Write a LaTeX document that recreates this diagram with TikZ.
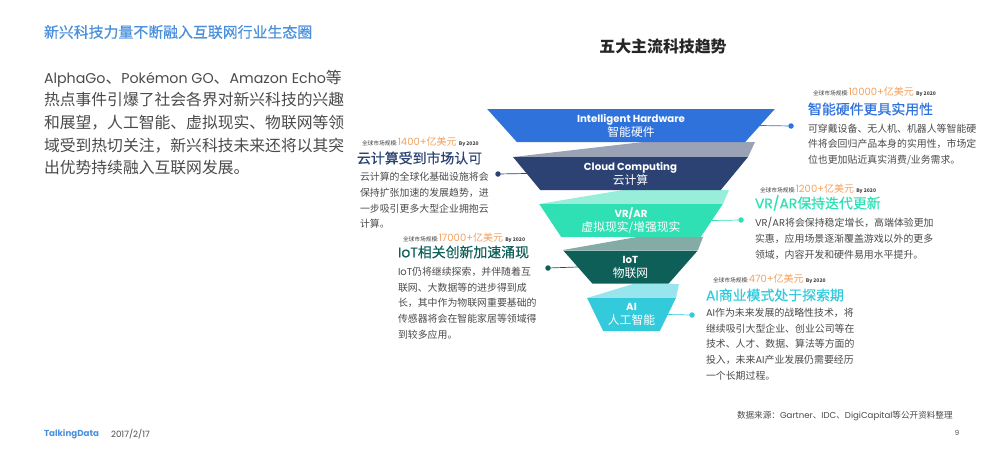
\documentclass[tikz,border=0pt]{standalone}
\usepackage{fontspec}
\setmainfont{Noto Sans CJK SC}
\newfontfamily\latinfont{Poppins}
\newfontfamily\introlatin[Scale=0.9]{Poppins}
\newfontfamily\headfont[FakeBold=0.6]{Noto Sans CJK SC}
\newfontfamily\headlatin[FakeBold=0.6]{Poppins}
\usetikzlibrary{positioning, shapes.geometric}
\definecolor{hwblue}{HTML}{2F72DC}
\definecolor{cloudnavy}{HTML}{2B4273}
\definecolor{vrmint}{HTML}{2FE0B4}
\definecolor{iotgreen}{HTML}{0E5F58}
\definecolor{aicyan}{HTML}{33CBDB}
\definecolor{headblue}{HTML}{4A90DC}
\definecolor{bodygray}{HTML}{4A4A4A}
\definecolor{sizeorange}{HTML}{F2A15F}
\definecolor{cloudband}{HTML}{9AA3B6}
\definecolor{iotband}{HTML}{84ABA6}
\newcommand{\sizeline}[1]{{\fontsize{5.7}{6}\selectfont 全球市场规模:}{\fontsize{10}{12}\selectfont\color{sizeorange}{\latinfont #1+}亿美元} {\fontsize{5}{6}\selectfont\bfseries By 2020}}
\newcommand{\funneltop}[1]{{\fontsize{10.2}{14}\selectfont\latinfont\bfseries #1}}

\begin{document}
\begin{tikzpicture}[x=1pt, y=-1pt, inner sep=0pt, outer sep=0pt,
  funnel/.style={trapezium, shape border rotate=180, trapezium stretches=true,
                 trapezium angle=58.8, minimum height=33pt, text=white, align=center,
                 font=\fontsize{11.8}{14}\selectfont},
  sizetext/.style={anchor=west, text=black!75},
  headline/.style={anchor=west, font=\fontsize{13.9}{16}\selectfont\headfont},
  bodytext/.style={anchor=west, align=left, text=bodygray, font=\fontsize{9.9}{15.7}\selectfont},
  dot/.style={circle, minimum size=5.5pt},
  link/.style={line width=0.7pt}]
  \useasboundingbox (0,0) rectangle (1001,461);
  % bands between the layers
  \fill[fill=cloudband] (513,157) -- (643,142) -- (755,142) -- (748,157) -- cycle;
  \fill[fill=vrmint!50] (539,204) -- (623,190) -- (729,190) -- (723,204) -- cycle;
  \fill[fill=iotband] (563,250) -- (637,237) -- (703,237) -- (698,250) -- cycle;
  \fill[fill=aicyan!50] (587,298) -- (633,284) -- (679,284) -- (676,298) -- cycle;
  % funnel
  \node[funnel, fill=hwblue, minimum width=288pt] (hw) at (631,125.5){\funneltop{Intelligent Hardware}\\智能硬件};
  \node[funnel, fill=cloudnavy, minimum width=235pt] (cloud) at (630.5,173.5){\funneltop{Cloud Computing}\\云计算};
  \node[funnel, fill=vrmint, minimum width=184pt] (vr) at (631,220.5){\funneltop{VR/AR}\\虚拟现实/增强现实};
  \node[funnel, fill=iotgreen, minimum width=135pt] (iot) at (630.5,267){\funneltop{IoT}\\物联网};
  \node[funnel, fill=aicyan, minimum width=89pt] (ai) at (631.5,314.5){\funneltop{AI}\\人工智能};
  % page texts
  \node[anchor=west, text=headblue, font=\fontsize{14.9}{18}\selectfont\headfont] (pagehead) at (44,32){新兴科技力量不断融入互联网行业生态圈};
  \node[anchor=west, align=left, text=bodygray, font=\fontsize{15.8}{22.7}\selectfont] (intro) at (44,122.5){%
    {\introlatin AlphaGo}、{\introlatin Pokémon GO}、{\introlatin Amazon Echo}等\\
    热点事件引爆了社会各界对新兴科技的兴趣\\
    和展望，人工智能、虚拟现实、物联网等领\\
    域受到热切关注，新兴科技未来还将以其突\\
    出优势持续融入互联网发展。};
  \node[font=\fontsize{15.9}{18}\selectfont\bfseries, text=black!85] (title) at (663,46){五大主流科技趋势};
  % hardware
  \node[dot, fill=hwblue] (hwdot) at (791,126){};
  \draw[link, draw=hwblue] (hw.east) -- (hwdot);
  \node[sizetext] (hwsize) at (813,92){\sizeline{10000}};
  \node[headline, text=hwblue] (hwhead) at (808,109){智能硬件更具实用性};
  \node[bodytext] (hwbody) at (808,144.5){可穿戴设备、无人机、机器人等智能硬\\件将会回归产品本身的实用性，市场定\\位也更加贴近真实消费/业务需求。};
  % cloud
  \node[dot, fill=cloudnavy] (clouddot) at (498,174){};
  \draw[link, draw=cloudnavy] (cloud.west) -- (clouddot);
  \node[sizetext] (cloudsize) at (362,142){\sizeline{1400}};
  \node[headline, text=cloudnavy] (cloudhead) at (357,158){云计算受到市场认可};
  \node[bodytext] (cloudbody) at (360,200.5){云计算的全球化基础设施将会\\保持扩张加速的发展趋势，进\\一步吸引更多大型企业拥抱云\\计算。};
  % vr
  \node[dot, fill=vrmint] (vrdot) at (741,220){};
  \draw[link, draw=vrmint] (vr.east) -- (vrdot);
  \node[sizetext] (vrsize) at (760,189){\sizeline{1200}};
  \node[headline, text=vrmint] (vrhead) at (755,203){{\headlatin VR/AR}保持迭代更新};
  \node[bodytext] (vrbody) at (755,238.5){{\latinfont VR/AR}将会保持稳定增长，高端体验更加\\实惠，应用场景逐渐覆盖游戏以外的更多\\领域，内容开发和硬件易用水平提升。};
  % iot
  \node[dot, fill=iotgreen] (iotdot) at (548,268){};
  \draw[link, draw=iotgreen] (iot.west) -- (iotdot);
  \node[sizetext] (iotsize) at (403,238){\sizeline{17000}};
  \node[headline, text=iotgreen] (iothead) at (398,252){{\headlatin IoT}相关创新加速涌现};
  \node[bodytext] (iotbody) at (398,303){{\latinfont IoT}仍将继续探索，并伴随着互\\联网、大数据等的进步得到成\\长，其中作为物联网重要基础的\\传感器将会在智能家居等领域得\\到较多应用。};
  % ai
  \node[dot, fill=aicyan] (aidot) at (692,315){};
  \draw[link, draw=aicyan] (ai.east) -- (aidot);
  \node[sizetext] (aisize) at (713,279){\sizeline{470}};
  \node[headline, text=aicyan] (aihead) at (706,295){{\headlatin AI}商业模式处于探索期};
  \node[bodytext] (aibody) at (706,344){{\latinfont AI}作为未来发展的战略性技术，将\\继续吸引大型企业、创业公司等在\\技术、人才、数据、算法等方面的\\投入，未来{\latinfont AI}产业发展仍需要经历\\一个长期过程。};
  % footer
  \node[anchor=west, text=headblue, font=\fontsize{8.7}{10}\selectfont\latinfont\bfseries] (brand) at (44,434){TalkingData};
  \node[anchor=west, text=bodygray, font=\fontsize{8.7}{10}\selectfont\latinfont] (date) at (111,434){2017/2/17};
  \node[anchor=west, text=bodygray, font=\fontsize{8.6}{10}\selectfont] (source) at (737,416){数据来源：{\latinfont Gartner}、{\latinfont IDC}、{\latinfont DigiCapital}等公开资料整理};
  \node[text=bodygray, font=\fontsize{7}{9}\selectfont\latinfont] (pagenum) at (957,433){9};
\end{tikzpicture}
\end{document}
